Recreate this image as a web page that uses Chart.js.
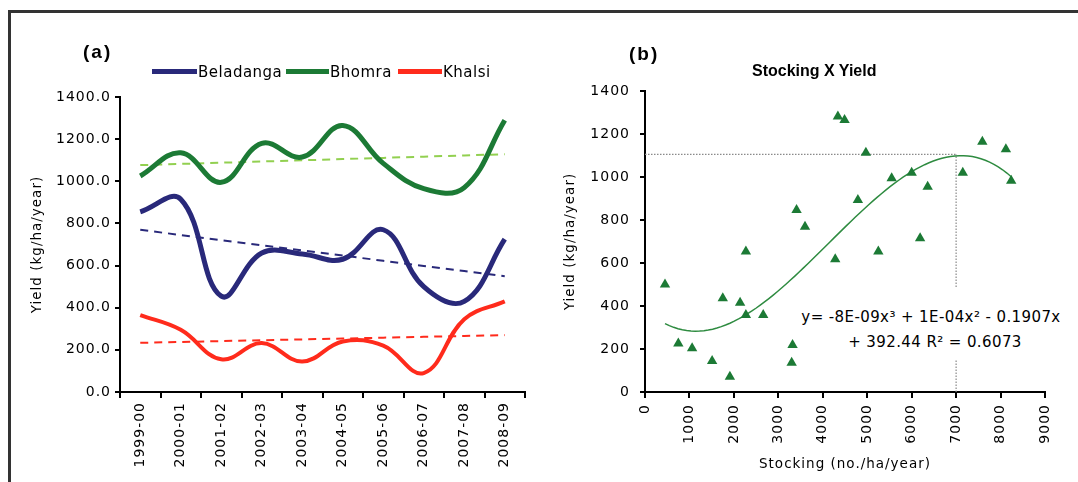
<!DOCTYPE html>
<html>
<head>
<meta charset="utf-8">
<script src="https://cdn.jsdelivr.net/npm/chart.js@4.4.1/dist/chart.umd.min.js"></script>
<style>
  html, body { margin: 0; padding: 0; background: #fff; }
  #page { position: relative; width: 1078px; height: 482px; overflow: hidden; background: #fff; }
  #frame { position: absolute; left: 8px; top: 10px; width: 1100px; height: 500px;
           border-left: 3px solid #333; border-top: 3px solid #333; }
  .cv { position: absolute; top: 0; }
  .txt { position: absolute; white-space: nowrap; color: #000; }
  .tag { font: bold 19px "Liberation Sans", Arial, sans-serif; letter-spacing: 2px; line-height: 22px; }
  .leg { font: 15px "DejaVu Sans", sans-serif; letter-spacing: 0.5px; line-height: 18px; }
  .swatch { position: absolute; height: 5px; }
  #titleB { font: bold 16px "Liberation Sans", Arial, sans-serif; line-height: 18px; }
  #eq { position: absolute; left: 799px; top: 287px; width: 264px; height: 73px; background: #fff; }
  #eq .line { position: absolute; left: 0; right: 0; height: 25px; line-height: 25px; white-space: nowrap;
              text-align: center; color: #000; font: 15px "DejaVu Sans", sans-serif; letter-spacing: 0.4px; }
  #eq .l1 { top: 21px; }
  #eq .l2 { top: 46px; left: 8px; }
</style>
</head>
<body>
<div id="page">
  <div id="frame"></div>
  <canvas id="chartA" class="cv" style="left:0" width="540" height="482"></canvas>
  <canvas id="chartB" class="cv" style="left:540px" width="538" height="482"></canvas>

  <div class="txt tag" style="left:83px;top:41px">(a)</div>
  <div class="swatch" style="left:152px;top:69px;width:45px;background:#29297a"></div>
  <div class="txt leg" style="left:198px;top:63px">Beladanga</div>
  <div class="swatch" style="left:286px;top:69px;width:43px;background:#1c7a35"></div>
  <div class="txt leg" style="left:330px;top:63px">Bhomra</div>
  <div class="swatch" style="left:398px;top:69px;width:44px;background:#ff2b1c"></div>
  <div class="txt leg" style="left:443px;top:63px">Khalsi</div>

  <div class="txt tag" style="left:629px;top:43px">(b)</div>
  <div id="titleB" class="txt" style="left:752px;top:62px">Stocking X Yield</div>
  <div id="eq">
    <div class="line l1">y= -8E-09x³ + 1E-04x² - 0.1907x</div>
    <div class="line l2">+ 392.44 R² = 0.6073</div>
  </div>
</div>

<script>
// ---- Panel (a): yield by season for three sites ----
const SEASONS = ['1999-00', '2000-01', '2001-02', '2002-03', '2003-04',
                 '2004-05', '2005-06', '2006-07', '2007-08', '2008-09'];
const BELADANGA = [855, 915, 455, 660, 655, 630, 770, 500, 430, 725];
const BHOMRA    = [1025, 1135, 995, 1180, 1115, 1265, 1085, 965, 970, 1290];
const KHALSI    = [365, 295, 155, 232, 145, 240, 220, 90, 345, 430];

// ---- Panel (b): stocking density against yield ----
const STOCKING = [450, 750, 1060, 1510, 1750, 1910, 2140, 2270, 2270, 2660,
                  3300, 3320, 3410, 3600, 3770, 3890, 4280, 4340, 4490, 4790,
                  4970, 5250, 5550, 6000, 6190, 6360, 7150, 7590, 8120, 8240];
const STOCK_YIELD = [500, 226, 203, 144, 436, 71, 415, 653, 358, 358,
                     136, 219, 847, 769, 451, 265, 617, 1281, 1265, 893,
                     1113, 653, 994, 1020, 715, 955, 1020, 1164, 1129, 983];
const FIT_PEAK = { x: 7000, y: 1105 };

const NAVY = '#29297a';
const GREEN = '#1c7a35';
const RED = '#ff2b1c';
const LIGHT_GREEN = '#92d050';
const FIT_GREEN = '#2e8b40';
const TICK_FONT = { family: 'DejaVu Sans', size: 14 };
const TITLE_FONT = { family: 'DejaVu Sans', size: 13.5 };

// Ordinary least-squares straight line through a series indexed 0..n-1
function linearTrend(values) {
  const n = values.length;
  const mx = (n - 1) / 2;
  const my = values.reduce((a, b) => a + b, 0) / n;
  let sxy = 0, sxx = 0;
  values.forEach((v, i) => { sxy += (i - mx) * (v - my); sxx += (i - mx) * (i - mx); });
  const slope = sxy / sxx;
  return values.map((_, i) => my + slope * (i - mx));
}

// Least-squares polynomial (normal equations, x in thousands for conditioning)
function polyFit(xs, ys, degree) {
  const m = degree + 1;
  const A = Array.from({ length: m }, () => new Array(m + 1).fill(0));
  xs.forEach((x0, k) => {
    const x = x0 / 1000;
    for (let i = 0; i < m; i++) {
      for (let j = 0; j < m; j++) A[i][j] += Math.pow(x, i + j);
      A[i][m] += ys[k] * Math.pow(x, i);
    }
  });
  for (let c = 0; c < m; c++) {
    let p = c;
    for (let r = c + 1; r < m; r++) if (Math.abs(A[r][c]) > Math.abs(A[p][c])) p = r;
    [A[c], A[p]] = [A[p], A[c]];
    for (let r = 0; r < m; r++) {
      if (r === c) continue;
      const f = A[r][c] / A[c][c];
      for (let k = c; k <= m; k++) A[r][k] -= f * A[c][k];
    }
  }
  const coef = A.map((row, i) => row[m] / row[i]);
  return x => coef.reduce((s, c, i) => s + c * Math.pow(x / 1000, i), 0);
}

const fit = polyFit(STOCKING, STOCK_YIELD, 3);
const xMin = Math.min(...STOCKING), xMax = Math.max(...STOCKING);
const fitCurve = [];
for (let i = 0; i <= 80; i++) {
  const x = xMin + (xMax - xMin) * i / 80;
  fitCurve.push({ x, y: fit(x) });
}

// Slightly spaced canvas text
const spacing = {
  id: 'spacing',
  beforeUpdate(chart) { chart.ctx.letterSpacing = '1px'; },
  beforeDraw(chart) { chart.ctx.letterSpacing = '1px'; }
};

const axisGrid = { drawOnChartArea: false, color: '#000', lineWidth: 2 };
const axisBorder = { color: '#000', width: 2 };

new Chart(document.getElementById('chartA'), {
  type: 'line',
  data: {
    labels: SEASONS,
    datasets: [
      { label: 'Beladanga', data: BELADANGA, borderColor: NAVY, borderWidth: 5, tension: 0.4, pointRadius: 0, order: 0 },
      { label: 'Bhomra', data: BHOMRA, borderColor: GREEN, borderWidth: 5, tension: 0.4, pointRadius: 0, order: 0 },
      { label: 'Khalsi', data: KHALSI, borderColor: RED, borderWidth: 4, tension: 0.4, pointRadius: 0, order: 0 },
      { label: 'Beladanga trend', data: linearTrend(BELADANGA), borderColor: NAVY, borderWidth: 2, borderDash: [8, 6], tension: 0, pointRadius: 0, order: 1 },
      { label: 'Bhomra trend', data: linearTrend(BHOMRA), borderColor: LIGHT_GREEN, borderWidth: 2, borderDash: [8, 6], tension: 0, pointRadius: 0, order: 1 },
      { label: 'Khalsi trend', data: linearTrend(KHALSI), borderColor: RED, borderWidth: 2, borderDash: [8, 6], tension: 0, pointRadius: 0, order: 1 }
    ]
  },
  options: {
    responsive: false,
    animation: false,
    events: [],
    layout: { padding: { top: 97, right: 15, bottom: 0, left: 0 } },
    plugins: { legend: { display: false }, tooltip: { enabled: false } },
    scales: {
      x: {
        offset: true,
        grid: Object.assign({ offset: true, tickLength: 6 }, axisGrid),
        border: axisBorder,
        ticks: { minRotation: 90, maxRotation: 90, autoSkip: false, color: '#000', font: TICK_FONT, padding: 4 },
        afterFit(s) { s.height = 90; }
      },
      y: {
        min: 0, max: 1400,
        grid: Object.assign({ tickLength: 5 }, axisGrid),
        border: axisBorder,
        ticks: { stepSize: 200, color: '#000', font: TICK_FONT, padding: 4, callback: v => v.toFixed(1) },
        title: { display: true, text: 'Yield (kg/ha/year)', color: '#000', font: TITLE_FONT, padding: { top: 29, bottom: 0 } },
        afterFit(s) { s.width = 120; }
      }
    }
  },
  plugins: [spacing]
});

new Chart(document.getElementById('chartB'), {
  type: 'scatter',
  data: {
    datasets: [
      { label: 'Stocking X Yield', data: STOCKING.map((x, i) => ({ x, y: STOCK_YIELD[i] })),
        pointStyle: 'triangle', pointRadius: 6, backgroundColor: GREEN, borderColor: GREEN, borderWidth: 0, order: 0 },
      { label: 'Poly. (Stocking X Yield)', data: fitCurve, showLine: true, borderColor: FIT_GREEN,
        borderWidth: 1.5, pointRadius: 0, tension: 0, order: 1 },
      { label: 'peak level', data: [{ x: 0, y: FIT_PEAK.y }, { x: FIT_PEAK.x, y: FIT_PEAK.y }], showLine: true,
        borderColor: '#8a8a8a', borderWidth: 1.2, borderDash: [1.5, 1.5], pointRadius: 0, order: 2 },
      { label: 'peak stocking', data: [{ x: FIT_PEAK.x, y: 0 }, { x: FIT_PEAK.x, y: FIT_PEAK.y }], showLine: true,
        borderColor: '#8a8a8a', borderWidth: 1.2, borderDash: [1.5, 1.5], pointRadius: 0, order: 2 }
    ]
  },
  options: {
    responsive: false,
    animation: false,
    events: [],
    layout: { padding: { top: 91, right: 33, bottom: 0, left: 0 } },
    plugins: { legend: { display: false }, tooltip: { enabled: false } },
    scales: {
      x: {
        type: 'linear', min: 0, max: 9000,
        grid: Object.assign({ tickLength: 6 }, axisGrid),
        border: axisBorder,
        ticks: { stepSize: 1000, minRotation: 90, maxRotation: 90, color: '#000', font: TICK_FONT, padding: 6, callback: v => String(v) },
        title: { display: true, text: 'Stocking (no./ha/year)', color: '#000', font: TITLE_FONT, padding: { top: 0, bottom: 9 } },
        afterFit(s) { s.height = 90; }
      },
      y: {
        min: 0, max: 1400,
        grid: Object.assign({ tickLength: 5 }, axisGrid),
        border: axisBorder,
        ticks: { stepSize: 200, color: '#000', font: TICK_FONT, padding: 10, callback: v => String(v) },
        title: { display: true, text: 'Yield (kg/ha/year)', color: '#000', font: TITLE_FONT, padding: { top: 22, bottom: 0 } },
        afterFit(s) { s.width = 105; }
      }
    }
  },
  plugins: [spacing]
});
</script>
</body>
</html>
